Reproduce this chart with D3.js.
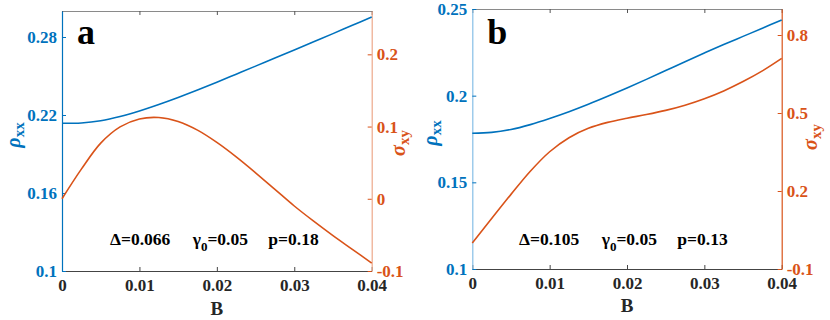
<!DOCTYPE html>
<html>
<head>
<meta charset="utf-8">
<script src="https://cdn.jsdelivr.net/npm/d3@7"></script>
<style>
  html, body { margin: 0; padding: 0; background: #fff; }
  svg { display: block; }
  svg text { font-family: "Liberation Serif", "Times New Roman", serif; font-weight: bold; }
</style>
</head>
<body>
<svg id="chart" width="830" height="320"></svg>
<script>
// ---- data ----
const B = [0, 0.0025, 0.005, 0.0075, 0.01, 0.0125, 0.015, 0.0175, 0.02,
           0.0225, 0.025, 0.0275, 0.03, 0.0325, 0.035, 0.0375, 0.04];
const rhoA   = [0.2136, 0.2139, 0.2156, 0.2188, 0.2231, 0.2281, 0.2335, 0.2392, 0.2452,
                0.2514, 0.2576, 0.2638, 0.2700, 0.2763, 0.2826, 0.2890, 0.2953];
const sigmaA = [0.000, 0.041, 0.077, 0.0995, 0.1105, 0.1125, 0.107, 0.095, 0.078,
                0.058, 0.036, 0.013, -0.010, -0.031, -0.051, -0.070, -0.089];
const rhoB   = [0.1783, 0.1788, 0.1805, 0.1833, 0.1868, 0.1907, 0.1950, 0.1996, 0.2044,
                0.2094, 0.2145, 0.2196, 0.2246, 0.2295, 0.2342, 0.2389, 0.2437];
const sigmaB = [0.000, 0.094, 0.187, 0.276, 0.351, 0.405, 0.441, 0.464, 0.480,
                0.494, 0.510, 0.530, 0.555, 0.585, 0.621, 0.662, 0.710];

const xTicks      = [0, 0.01, 0.02, 0.03, 0.04];
const xTickLabels = ["0", "0.01", "0.02", "0.03", "0.04"];
const rhoTicksA   = [0.1, 0.16, 0.22, 0.28];
const sigmaTicksA = [-0.1, 0, 0.1, 0.2];
const rhoTicksB   = [0.1, 0.15, 0.2, 0.25];
const sigmaTicksB = [-0.1, 0.2, 0.5, 0.8];
const panelLetters = ["a", "b"];
const paramTextA = ["Δ=0.066", "γ", "0", "=0.05", "p=0.18"];
const paramTextB = ["Δ=0.105", "γ", "0", "=0.05", "p=0.13"];

const BLUE = "#0072BD", ORANGE = "#D95319", DARK = "#262626";
const FONT = "Liberation Serif";

const svg = d3.select("#chart");

const panels = [
  { letter: panelLetters[0], left: 62, right: 371.7, top: 11, bottom: 271,
    rho: rhoA, sigma: sigmaA, rhoDom: [0.1, 0.3], sigDom: [-0.1, 0.26],
    rhoTicks: rhoTicksA, sigTicks: sigmaTicksA, params: paramTextA,
    leftAxisColor: BLUE, rightAxisColor: "#EDA88A",
    paramX: [110, 192.7, 268.3], rhoLab: [19.5, 135], sigLab: [405, 143],
    xLabY: 315 },
  { letter: panelLetters[1], left: 472.3, right: 781.7, top: 9, bottom: 269,
    rho: rhoB, sigma: sigmaB, rhoDom: [0.1, 0.25], sigDom: [-0.1, 0.9],
    rhoTicks: rhoTicksB, sigTicks: sigmaTicksB, params: paramTextB,
    leftAxisColor: "#86BFE6", rightAxisColor: ORANGE,
    paramX: [519, 601.7, 677.3], rhoLab: [437, 133], sigLab: [817, 137],
    xLabY: 312 }
];

const fmt = d => String(d);

panels.forEach(p => {
  const g = svg.append("g").attr("font-family", FONT).attr("font-weight", "bold");
  const x = d3.scaleLinear().domain([0, 0.04]).range([p.left, p.right]);
  const yL = d3.scaleLinear().domain(p.rhoDom).range([p.bottom, p.top]);
  const yR = d3.scaleLinear().domain(p.sigDom).range([p.bottom, p.top]);

  // top border with inward ticks
  const topAx = g.append("g").attr("transform", `translate(0,${p.top})`)
    .call(d3.axisTop(x).tickValues(xTicks).tickSizeInner(-4).tickSizeOuter(0).tickFormat(""));
  topAx.select(".domain").attr("stroke", "#8a8a8a");
  topAx.selectAll(".tick line").attr("stroke", "#555");

  // bottom axis
  const botAx = g.append("g").attr("transform", `translate(0,${p.bottom})`)
    .call(d3.axisBottom(x).tickValues(xTicks).tickSizeInner(-4).tickSizeOuter(0)
      .tickPadding(8).tickFormat((d, i) => xTickLabels[i]));
  botAx.attr("font-family", FONT).attr("font-size", 17);
  botAx.select(".domain").attr("stroke", "#444");
  botAx.selectAll(".tick line").attr("stroke", "#444");
  botAx.selectAll("text").attr("fill", DARK);

  // left axis
  const lAx = g.append("g").attr("transform", `translate(${p.left},0)`)
    .call(d3.axisLeft(yL).tickValues(p.rhoTicks).tickSizeInner(-4).tickSizeOuter(0)
      .tickPadding(5).tickFormat(fmt));
  lAx.attr("font-family", FONT).attr("font-size", 17);
  lAx.select(".domain").attr("stroke", p.leftAxisColor).attr("stroke-width", 1.2);
  lAx.selectAll(".tick line").attr("stroke", BLUE);
  lAx.selectAll("text").attr("fill", BLUE);

  // right axis
  const rAx = g.append("g").attr("transform", `translate(${p.right},0)`)
    .call(d3.axisRight(yR).tickValues(p.sigTicks).tickSizeInner(-4).tickSizeOuter(0)
      .tickPadding(5).tickFormat(fmt));
  rAx.attr("font-family", FONT).attr("font-size", 17);
  rAx.select(".domain").attr("stroke", p.rightAxisColor).attr("stroke-width", 1.2);
  rAx.selectAll(".tick line").attr("stroke", ORANGE);
  rAx.selectAll("text").attr("fill", ORANGE);

  // curves
  const lineL = d3.line().x((d, i) => x(B[i])).y(d => yL(d)).curve(d3.curveCatmullRom.alpha(0.5));
  const lineR = d3.line().x((d, i) => x(B[i])).y(d => yR(d)).curve(d3.curveCatmullRom.alpha(0.5));
  g.append("path").datum(p.rho).attr("d", lineL)
    .attr("fill", "none").attr("stroke", BLUE).attr("stroke-width", 1.6);
  g.append("path").datum(p.sigma).attr("d", lineR)
    .attr("fill", "none").attr("stroke", ORANGE).attr("stroke-width", 1.6);

  // panel letter
  g.append("text").attr("x", p.left + 15).attr("y", 43.5)
    .attr("fill", "#000").attr("font-size", 36).text(p.letter);

  // parameter annotation
  const py = 245;
  g.append("text").attr("x", p.paramX[0]).attr("y", py).attr("font-size", 17.5)
    .attr("fill", "#000").text(p.params[0]);
  const gt = g.append("text").attr("x", p.paramX[1]).attr("y", py).attr("font-size", 17.5)
    .attr("fill", "#000");
  gt.append("tspan").text(p.params[1]);
  gt.append("tspan").attr("dy", 6).attr("font-size", 13).text(p.params[2]);
  gt.append("tspan").attr("dy", -6).text(p.params[3]);
  g.append("text").attr("x", p.paramX[2]).attr("y", py).attr("font-size", 17.5)
    .attr("fill", "#000").text(p.params[4]);

  // x label
  g.append("text").attr("x", (p.left + p.right) / 2).attr("y", p.xLabY)
    .attr("text-anchor", "middle").attr("fill", DARK).attr("font-size", 19).text("B");

  // rho label
  const rl = g.append("text")
    .attr("transform", `translate(${p.rhoLab[0]},${p.rhoLab[1]}) rotate(-90)`)
    .attr("text-anchor", "middle").attr("fill", BLUE).attr("font-size", 20);
  rl.append("tspan").attr("font-style", "italic").text("ρ");
  rl.append("tspan").attr("dy", 4).attr("font-size", 15).text("xx");

  // sigma label
  const sl = g.append("text")
    .attr("transform", `translate(${p.sigLab[0]},${p.sigLab[1]}) rotate(-90)`)
    .attr("text-anchor", "middle").attr("fill", ORANGE).attr("font-size", 20);
  sl.append("tspan").attr("font-style", "italic").text("σ");
  sl.append("tspan").attr("dy", 4).attr("font-size", 15).text("xy");
});
</script>
</body>
</html>
